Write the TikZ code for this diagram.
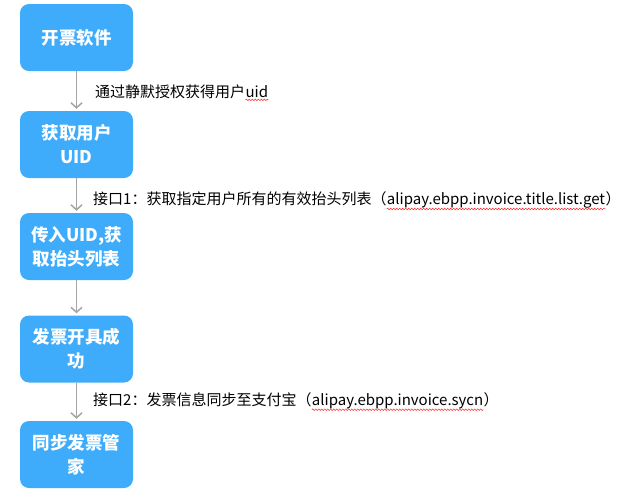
\documentclass[tikz,border=0pt]{standalone}
\usepackage{fontspec}
\setmainfont{Noto Sans CJK SC}
\usepackage{tikz}
\usetikzlibrary{positioning, arrows.meta, decorations.pathmorphing}
\definecolor{stepblue}{RGB}{62,172,250}
\definecolor{flowgray}{RGB}{165,165,165}
\tikzset{
  stepbox/.style = {fill=stepblue, rounded corners=9pt, minimum width=113pt, minimum height=67pt,
                    text width=108pt, align=center, text=white, inner sep=0pt,
                    font=\fontsize{17.5}{24}\selectfont\bfseries},
  flow/.style    = {draw=flowgray, line width=1.5pt, shorten >=2pt,
                    -{Straight Barb[length=5pt, width=11pt, line width=1.5pt]}},
  note/.style    = {font=\fontsize{15}{18}\selectfont, inner sep=0pt, anchor=base west},
  typo/.style    = {draw=red!85, line width=0.5pt, decorate,
                    decoration={snake, amplitude=0.8pt, segment length=3pt}}
}

\begin{document}
\begin{tikzpicture}[x=1pt, y=-1pt]
    \useasboundingbox (0,0) rectangle (631,491);

    % ── Steps ─────────────────────────────────────────────
    \node[stepbox] (soft)  at (76.5, 37.5)  {开票软件};
    \node[stepbox] (uid)   at (76.5, 144.5) {获取用户\\UID};
    \node[stepbox] (title) at (76.5, 246.5) {传入UID,获\\取抬头列表};
    \node[stepbox] (done)  at (76.5, 349)   {发票开具成\\功};
    \node[stepbox] (sync)  at (76.5, 454.5) {同步发票管\\家};

    \draw[flow] (soft)  -- (uid);
    \draw[flow] (uid)   -- (title);
    \draw[flow] (title) -- (done);
    \draw[flow] (done)  -- (sync);

    % ── Notes beside the arrows ───────────────────────────
    \node[note] (n1a) at (95, 97) {通过静默授权获得用户};
    \node[note] (n1b) at (n1a.base east) {uid};
    \draw[typo] ([yshift=-2.5pt]n1b.south west) -- ([yshift=-2.5pt]n1b.south east);

    \node[note] (n2a) at (93, 204) {接口1：获取指定用户所有的有效抬头列表（};
    \node[note] (n2b) at (n2a.base east) {alipay.ebpp.invoice.title.list.get};
    \node[note] (n2c) at (n2b.base east) {）};
    \draw[typo] ([yshift=-1pt]n2b.south west) -- ([yshift=-1pt]n2b.south east);

    \node[note] (n3a) at (93, 405) {接口2：发票信息同步至支付宝（};
    \node[note] (n3b) at (n3a.base east) {alipay.ebpp.invoice.sycn};
    \node[note] (n3c) at (n3b.base east) {）};
    \draw[typo] ([yshift=-1pt]n3b.south west) -- ([yshift=-1pt]n3b.south east);

\end{tikzpicture}
\end{document}
